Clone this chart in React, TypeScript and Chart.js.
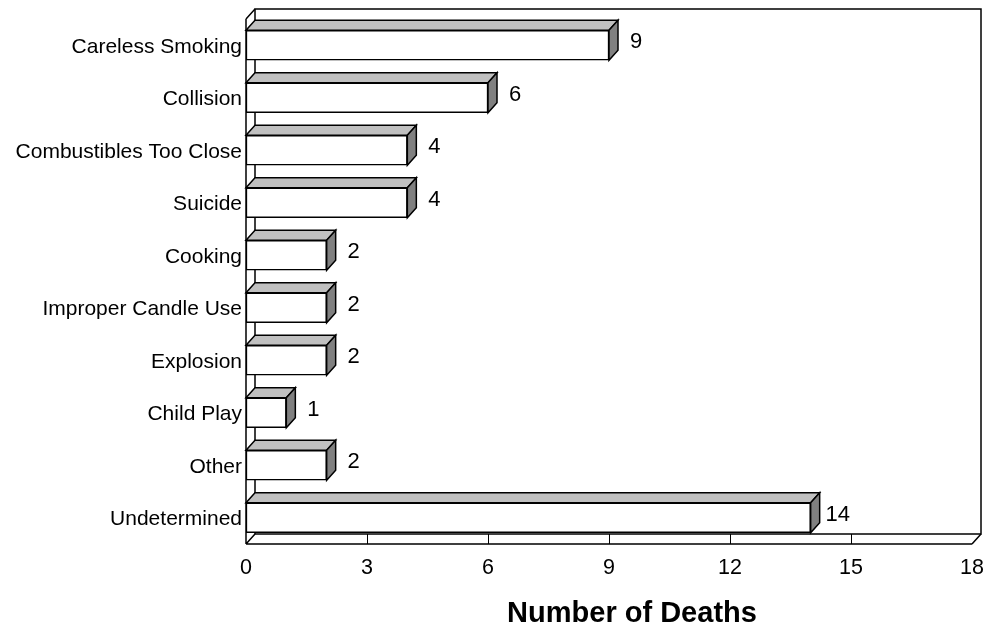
import React, { useEffect, useRef } from "react";
import { Chart, registerables } from "chart.js";

Chart.register(...registerables);

const categories = [
  "Careless Smoking",
  "Collision",
  "Combustibles Too Close",
  "Suicide",
  "Cooking",
  "Improper Candle Use",
  "Explosion",
  "Child Play",
  "Other",
  "Undetermined",
];
const deaths = [9, 6, 4, 4, 2, 2, 2, 1, 2, 14];
const xTicks = [0, 3, 6, 9, 12, 15, 18];
const axisTitle = "Number of Deaths";

const DX = 9;
const DY = 10;
const FONT = '"Liberation Sans", Arial, sans-serif';

const threeD = {
  id: "threeD",
  beforeDatasetsDraw(chart: any) {
    const ctx = chart.ctx;
    const { left, right, top, bottom } = chart.chartArea;
    const xs = chart.scales.x;
    ctx.save();
    ctx.strokeStyle = "#000";
    ctx.lineWidth = 1.5;
    ctx.strokeRect(left + DX, top - DY, right - left, bottom - top);
    ctx.beginPath();
    ctx.moveTo(left, top);
    ctx.lineTo(left, bottom);
    ctx.moveTo(left, top);
    ctx.lineTo(left + DX, top - DY);
    ctx.moveTo(left, bottom);
    ctx.lineTo(left + DX, bottom - DY);
    ctx.moveTo(left, bottom);
    ctx.lineTo(right, bottom);
    ctx.moveTo(right, bottom);
    ctx.lineTo(right + DX, bottom - DY);
    ctx.stroke();
    ctx.lineWidth = 1;
    ctx.beginPath();
    for (const t of xTicks) {
      const px = Math.round(xs.getPixelForValue(t)) + 0.5;
      if (t === xTicks[0] || t === xTicks[xTicks.length - 1]) continue;
      ctx.moveTo(px, bottom - DY);
      ctx.lineTo(px, bottom);
    }
    ctx.stroke();
    ctx.restore();
  },
  afterDatasetsDraw(chart: any) {
    const ctx = chart.ctx;
    const meta = chart.getDatasetMeta(0);
    const { left, right, bottom } = chart.chartArea;
    const xs = chart.scales.x;
    const ys = chart.scales.y;
    ctx.save();
    ctx.strokeStyle = "#000";
    ctx.lineWidth = 1.5;
    ctx.lineJoin = "miter";
    meta.data.forEach((bar: any, i: number) => {
      const { x, y, base, height } = bar.getProps(["x", "y", "base", "height"], true);
      const yTop = y - height / 2;
      const yBot = y + height / 2;
      ctx.beginPath();
      ctx.moveTo(base, yTop);
      ctx.lineTo(x, yTop);
      ctx.lineTo(x + DX, yTop - DY);
      ctx.lineTo(base + DX, yTop - DY);
      ctx.closePath();
      ctx.fillStyle = "#c0c0c0";
      ctx.fill();
      ctx.stroke();
      ctx.beginPath();
      ctx.moveTo(x, yTop);
      ctx.lineTo(x + DX, yTop - DY);
      ctx.lineTo(x + DX, yBot - DY);
      ctx.lineTo(x, yBot);
      ctx.closePath();
      ctx.fillStyle = "#808080";
      ctx.fill();
      ctx.stroke();
      ctx.fillStyle = "#000";
      ctx.font = `22px ${FONT}`;
      ctx.textAlign = "center";
      ctx.textBaseline = "alphabetic";
      ctx.fillText(String(deaths[i]), x + DX + 18, y - DY / 2 + 8);
    });
    ctx.fillStyle = "#000";
    ctx.font = `21px ${FONT}`;
    ctx.textAlign = "right";
    ctx.textBaseline = "alphabetic";
    categories.forEach((c, i) => {
      const py = ys.getPixelForValue(i);
      ctx.fillText(c, left - 4, py + 7.5);
    });
    ctx.textAlign = "center";
    ctx.font = `21.5px ${FONT}`;
    xTicks.forEach((t) => {
      ctx.fillText(String(t), xs.getPixelForValue(t), bottom + 30);
    });
    ctx.font = `bold 29px ${FONT}`;
    ctx.fillText(axisTitle, (left + right) / 2 + 23, bottom + 77.5);
    ctx.restore();
  },
};

export default function App() {
  const ref = useRef<HTMLCanvasElement>(null);
  useEffect(() => {
    if (!ref.current) return;
    const chart = new Chart(ref.current, {
      type: "bar",
      data: {
        labels: categories,
        datasets: [
          {
            data: deaths,
            backgroundColor: "#ffffff",
            borderColor: "#000000",
            borderWidth: 1.5,
            borderSkipped: false,
            barThickness: 30,
          },
        ],
      },
      options: {
        indexAxis: "y",
        animation: false,
        responsive: false,
        devicePixelRatio: 1,
        layout: { padding: { left: 246, right: 27, top: 19, bottom: 81 } },
        plugins: { legend: { display: false }, tooltip: { enabled: false } },
        scales: {
          x: { display: false, min: 0, max: 18, ticks: { stepSize: 3 } },
          y: { display: false },
        },
      },
      plugins: [threeD],
    });
    return () => chart.destroy();
  }, []);
  return (
    <div style={{ position: "absolute", left: 0, top: 0, width: 999, height: 625, background: "#fff" }}>
      <canvas ref={ref} width={999} height={625} />
    </div>
  );
}
